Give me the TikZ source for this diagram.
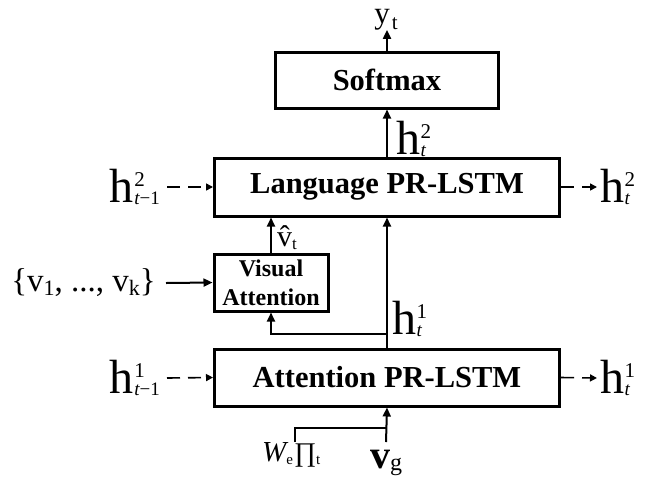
\documentclass[tikz,border=0pt]{standalone}
\usepackage{fontspec}
\setmainfont{Liberation Serif}
\usepackage{tikz}
\usetikzlibrary{positioning, arrows.meta}
\newcommand{\smallfs}[1]{\fontsize{#1}{#1}\selectfont}
\newcommand{\hst}[2]{h\kern0.5pt\rlap{\raisebox{16pt}{\smallfs{21}#1}}\raisebox{-2pt}{\smallfs{19}\itshape t\upshape#2}}

\begin{document}
\begin{tikzpicture}[x=1pt, y=-1pt,
    blk/.style={draw, line width=3pt, font=\fontsize{30.5}{36}\selectfont\bfseries},
    arr/.style={-{Triangle[length=9pt, width=8pt]}, line width=2pt},
    darr/.style={-{Triangle[length=7pt, width=7pt]}, line width=1.6pt, dash pattern=on 13pt off 8pt},
    lab/.style={inner sep=0pt, font=\fontsize{48}{52}\selectfont}]
  \useasboundingbox (0,0) rectangle (655,477);

  \node[blk, minimum width=223pt, minimum height=56pt] (softmax) at (387,80) {Softmax};
  \node[blk, minimum width=345pt, minimum height=58pt] (lang) at (387,187) {Language PR-LSTM};
  \node[blk, minimum width=114pt, minimum height=57pt, align=center,
        font=\fontsize{24}{29}\selectfont\bfseries] (visatt) at (271,282.5) {Visual\\Attention};
  \node[blk, minimum width=345pt, minimum height=57pt] (attn) at (387,377.5) {Attention PR-LSTM};

  \node[lab, font=\fontsize{31}{36}\selectfont, anchor=base] (yt) at (386,23) {y\kern2pt\raisebox{-6pt}{\smallfs{21}t}};
  \node[lab, anchor=east] (h2in) at (160,187) {\hst{2}{−1}};
  \node[lab, anchor=west] (h2out) at (600,187) {\hst{2}{}};
  \node[lab, anchor=east] (h1in) at (160,378) {\hst{1}{−1}};
  \node[lab, anchor=west] (h1out) at (600,378) {\hst{1}{}};
  \node[lab, font=\fontsize{33}{38}\selectfont, anchor=east] (vset) at (156,283)
    {\{v\raisebox{-4pt}{\smallfs{22}1}, ..., v\raisebox{-4pt}{\smallfs{22}k}\}};
  \node[lab, font=\fontsize{30}{34}\selectfont, anchor=west] (vhat) at (277,238) {\^v\raisebox{-3pt}{\smallfs{17}t}};
  \node[lab, font=\fontsize{40}{44}\selectfont\bfseries, anchor=north] (vg) at (386,450) {v\raisebox{-2pt}{\smallfs{24}\mdseries g}};
  \node[lab, font=\fontsize{27}{30}\selectfont, anchor=north west] (wprod) at (262,442)
    {{\smallfs{29}\itshape W}\raisebox{-3pt}{\smallfs{15}e}\kern1pt∏\raisebox{-3pt}{\smallfs{15}t}};

  \draw[arr] (softmax.north) -- (softmax.north |- yt.south);
  \draw[arr] (lang.north) -- node[lab, right=8pt, pos=0.38] (h2mid) {\hst{2}{}} (softmax.south);
  \draw[darr] ([xshift=7pt]h2in.east) -- (lang.west);
  \draw[darr] (lang.east) -- ([xshift=-3pt]h2out.west);
  \draw[arr] (visatt.north) -- (visatt.north |- lang.south);
  \draw[arr] ([xshift=10pt]vset.east) -- (visatt.west);
  \draw[arr] (attn.north) -- node[lab, right=4pt, pos=0.22] (h1mid) {\hst{1}{}} (lang.south);
  \coordinate (split) at (387,334);
  \draw[arr] (split) -| (visatt.south);
  \draw[darr] ([xshift=7pt]h1in.east) -- (attn.west);
  \draw[darr] (attn.east) -- ([xshift=-3pt]h1out.west);
  \draw[arr] ([yshift=8pt]vg.north) -- (attn.south);
  \coordinate (wjoin) at (295,428);
  \draw[line width=2pt] (wjoin |- wprod.north) -- (wjoin) -- (wjoin -| vg.north);
\end{tikzpicture}
\end{document}
